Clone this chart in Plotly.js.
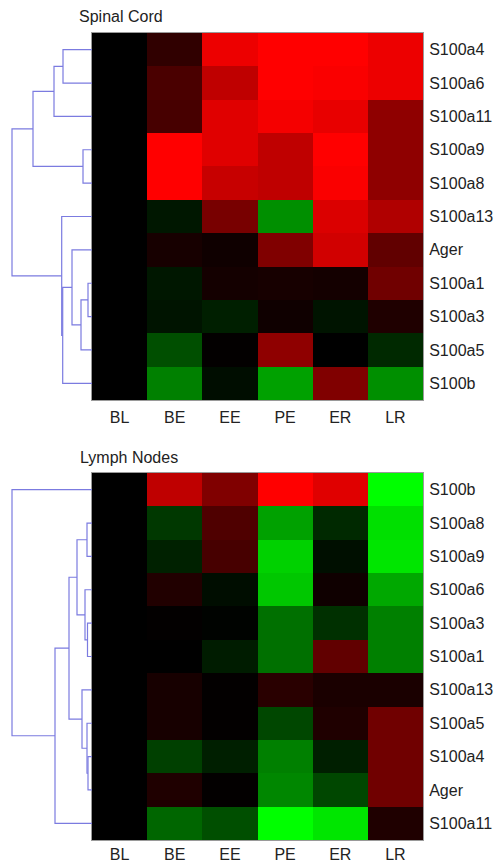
<!DOCTYPE html>
<html>
<head>
<meta charset="utf-8">
<script src="https://cdn.plot.ly/plotly-3.0.1.min.js"></script>
<style>html,body{margin:0;padding:0;background:#fff;}#chart{width:495px;height:862px;}</style>
</head>
<body>
<div id="chart"></div>
<script>
// ---- data ----
const stages = ['BL', 'BE', 'EE', 'PE', 'ER', 'LR'];

const spinalGenes = ['S100a4', 'S100a6', 'S100a11', 'S100a9', 'S100a8', 'S100a13', 'Ager', 'S100a1', 'S100a3', 'S100a5', 'S100b'];
const spinalValues = [
  [0, 0.19, 0.93, 1.00, 1.00, 0.93],
  [0, 0.29, 0.75, 1.00, 0.98, 0.93],
  [0, 0.28, 0.88, 0.96, 0.91, 0.56],
  [0, 1.00, 0.88, 0.75, 1.00, 0.56],
  [0, 1.00, 0.78, 0.75, 0.98, 0.56],
  [0, -0.09, 0.47, -0.56, 0.86, 0.69],
  [0, 0.09, 0.06, 0.50, 0.82, 0.38],
  [0, -0.09, 0.08, 0.09, 0.08, 0.44],
  [0, -0.08, -0.12, 0.06, -0.08, 0.12],
  [0, -0.31, 0.01, 0.56, 0.00, -0.16],
  [0, -0.50, -0.05, -0.63, 0.50, -0.56]
];
// linkage: [childA, childB, distance]; leaves 0..10, merges numbered from 11
const spinalLinkage = [
  [0, 1, 29], [11, 2, 38], [3, 4, 9], [12, 13, 59],
  [7, 8, 4], [15, 9, 11], [6, 16, 20], [17, 10, 29.3],
  [5, 18, 30.3], [14, 19, 80]
];

const lymphGenes = ['S100b', 'S100a8', 'S100a9', 'S100a6', 'S100a3', 'S100a1', 'S100a13', 'S100a5', 'S100a4', 'Ager', 'S100a11'];
const lymphValues = [
  [0, 0.75, 0.50, 1.00, 0.88, -1.00],
  [0, -0.22, 0.31, -0.63, -0.16, -0.88],
  [0, -0.13, 0.28, -0.82, -0.06, -0.90],
  [0, 0.13, -0.05, -0.78, 0.06, -0.66],
  [0, 0.01, -0.01, -0.44, -0.19, -0.50],
  [0, 0.00, -0.11, -0.44, 0.38, -0.50],
  [0, 0.09, 0.01, 0.16, 0.10, 0.10],
  [0, 0.09, 0.01, -0.28, 0.12, 0.44],
  [0, -0.25, -0.12, -0.50, -0.12, 0.44],
  [0, 0.12, 0.01, -0.53, -0.28, 0.44],
  [0, -0.40, -0.31, -1.00, -0.90, 0.12]
];
const lymphLinkage = [
  [1, 2, 5], [4, 5, 4.5], [3, 12, 7], [11, 13, 15],
  [8, 9, 4], [7, 15, 5], [6, 16, 10], [14, 17, 23],
  [18, 10, 37], [0, 19, 80]
];

// ---- helpers ----
function dendroLines(nLeaves, linkage) {
  const pos = [], hgt = [];
  for (let i = 0; i < nLeaves; i++) { pos.push(i); hgt.push(0); }
  const xs = [], ys = [];
  linkage.forEach(([a, b, h]) => {
    xs.push(hgt[a], h, h, hgt[b], null);
    ys.push(pos[a], pos[a], pos[b], pos[b], null);
    pos.push((pos[a] + pos[b]) / 2);
    hgt.push(h);
  });
  return {x: xs, y: ys};
}

const W = 495, H = 862;
const hmX = [92 / W, 423 / W];
const dnX = [0, 92 / W];
const topY = [1 - 400 / H, 1 - 33 / H];
const botY = [1 - 840 / H, 1 - 473 / H];

const cs = [[0, '#00ff00'], [0.5, '#000000'], [1, '#ff0000']];
const lineColor = '#7b7be0';
const font = {family: 'Liberation Sans, Arial, sans-serif', size: 16, color: '#222'};

const d1 = dendroLines(spinalGenes.length, spinalLinkage);
const d2 = dendroLines(lymphGenes.length, lymphLinkage);

const traces = [
  {type: 'heatmap', x: stages, y: spinalGenes, z: spinalValues, colorscale: cs, zmin: -1, zmax: 1,
   showscale: false, xaxis: 'x', yaxis: 'y'},
  {type: 'heatmap', x: stages, y: lymphGenes, z: lymphValues, colorscale: cs, zmin: -1, zmax: 1,
   showscale: false, xaxis: 'x2', yaxis: 'y2'},
  {type: 'scatter', mode: 'lines', x: d1.x, y: d1.y, line: {color: lineColor, width: 1.2},
   xaxis: 'x3', yaxis: 'y3', connectgaps: false, hoverinfo: 'skip', cliponaxis: false},
  {type: 'scatter', mode: 'lines', x: d2.x, y: d2.y, line: {color: lineColor, width: 1.2},
   xaxis: 'x4', yaxis: 'y4', connectgaps: false, hoverinfo: 'skip', cliponaxis: false}
];

const hmXaxis = (anchor, standoff) => ({domain: hmX, anchor: anchor, type: 'category', showgrid: false, zeroline: false,
  ticks: '', tickfont: font, showline: true, mirror: true, linecolor: '#9a9a9a', linewidth: 1,
  ticklabelstandoff: standoff, fixedrange: true});
const hmYaxis = (anchor, dom) => ({domain: dom, anchor: anchor, type: 'category', side: 'right', autorange: 'reversed',
  showgrid: false, zeroline: false, ticks: '', tickfont: font, showline: true, mirror: true,
  linecolor: '#9a9a9a', linewidth: 1, ticklabelstandoff: 2, fixedrange: true});
const dnXaxis = (anchor) => ({domain: dnX, anchor: anchor, range: [92, 0], visible: false, fixedrange: true});
const dnYaxis = (anchor, dom) => ({domain: dom, anchor: anchor, range: [10.5, -0.5], visible: false, fixedrange: true});

const layout = {
  width: W, height: H,
  margin: {l: 0, r: 0, t: 0, b: 0},
  paper_bgcolor: '#ffffff', plot_bgcolor: '#ffffff',
  showlegend: false,
  xaxis: hmXaxis('y', 3), yaxis: hmYaxis('x', topY),
  xaxis2: hmXaxis('y2', 0), yaxis2: hmYaxis('x2', botY),
  xaxis3: dnXaxis('y3'), yaxis3: dnYaxis('x3', topY),
  xaxis4: dnXaxis('y4'), yaxis4: dnYaxis('x4', botY),
  annotations: [
    {text: 'Spinal Cord', xref: 'paper', yref: 'paper', x: 77 / W, y: 1 - 17 / H, xanchor: 'left', yanchor: 'middle',
     showarrow: false, font: font},
    {text: 'Lymph Nodes', xref: 'paper', yref: 'paper', x: 78 / W, y: 1 - 457 / H, xanchor: 'left', yanchor: 'middle',
     showarrow: false, font: font}
  ]
};

Plotly.newPlot('chart', traces, layout, {displayModeBar: false, staticPlot: true});
</script>
</body>
</html>
